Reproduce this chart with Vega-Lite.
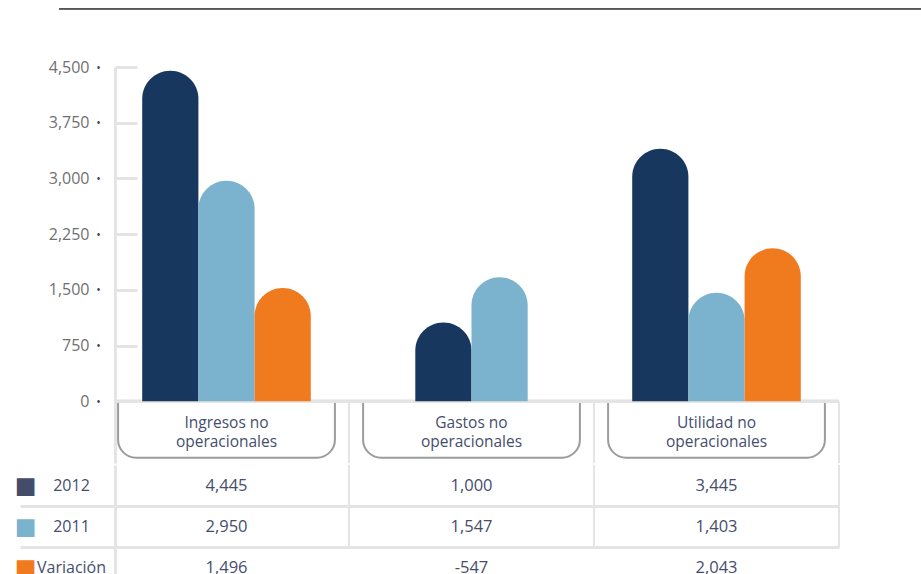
{
  "$schema": "https://vega.github.io/schema/vega-lite/v6.json",
  "padding": {"left": 14, "top": 7, "right": 0, "bottom": 0},
  "background": "white",
  "spacing": 0,
  "config": {
    "view": {"stroke": null},
    "font": "Open Sans",
    "locale": {"number": {"decimal": ".", "thousands": ",", "grouping": [3], "currency": ["$", ""], "minus": "-"}}
  },
  "datasets": {
    "bars": [
      {"category": "Ingresos no operacionales", "series": "2012", "value": 4450},
      {"category": "Ingresos no operacionales", "series": "2011", "value": 2970},
      {"category": "Ingresos no operacionales", "series": "Variación", "value": 1525},
      {"category": "Gastos no operacionales", "series": "2012", "value": 1060},
      {"category": "Gastos no operacionales", "series": "2011", "value": 1670},
      {"category": "Utilidad no operacionales", "series": "2012", "value": 3400},
      {"category": "Utilidad no operacionales", "series": "2011", "value": 1460},
      {"category": "Utilidad no operacionales", "series": "Variación", "value": 2060}
    ],
    "table": [
      {"category": "Ingresos no operacionales", "series": "2012", "shown": 4445},
      {"category": "Ingresos no operacionales", "series": "2011", "shown": 2950},
      {"category": "Ingresos no operacionales", "series": "Variación", "shown": 1496},
      {"category": "Gastos no operacionales", "series": "2012", "shown": 1000},
      {"category": "Gastos no operacionales", "series": "2011", "shown": 1547},
      {"category": "Gastos no operacionales", "series": "Variación", "shown": -547},
      {"category": "Utilidad no operacionales", "series": "2012", "shown": 3445},
      {"category": "Utilidad no operacionales", "series": "2011", "shown": 1403},
      {"category": "Utilidad no operacionales", "series": "Variación", "shown": 2043}
    ],
    "cats": [
      {"category": "Ingresos no operacionales", "header": "Ingresos no\noperacionales"},
      {"category": "Gastos no operacionales", "header": "Gastos no\noperacionales"},
      {"category": "Utilidad no operacionales", "header": "Utilidad no\noperacionales"}
    ]
  },
  "vconcat": [
    {
      "width": 724,
      "height": 396,
      "layer": [
        {
          "layer": [
            {
              "data": {"name": "cats"},
              "mark": {"type": "rule", "color": "#e4e4e4", "strokeWidth": 2},
              "encoding": {
                "x": {"field": "category", "type": "nominal", "bandPosition": 1, "scale": {"type": "band", "domain": ["Ingresos no operacionales", "Gastos no operacionales", "Utilidad no operacionales"], "range": [-11, 724], "paddingInner": 0, "paddingOuter": 0}, "axis": null},
                "y": {"datum": 0, "type": "quantitative", "scale": {"domain": [-830, 4500], "nice": false}, "axis": null},
                "y2": {"datum": -830}
              }
            },
            {
              "data": {"name": "cats"},
              "mark": {"type": "bar", "fill": "white", "stroke": "#9c9c9c", "strokeWidth": 2, "cornerRadiusBottomLeft": 18, "cornerRadiusBottomRight": 18, "width": {"band": 0.885}},
              "encoding": {
                "x": {"field": "category", "type": "nominal", "scale": {"type": "band", "domain": ["Ingresos no operacionales", "Gastos no operacionales", "Utilidad no operacionales"], "range": [-11, 724], "paddingInner": 0, "paddingOuter": 0}, "axis": null},
                "y": {"datum": 0, "type": "quantitative", "scale": {"domain": [-830, 4500], "nice": false}, "axis": null},
                "y2": {"datum": -758}
              }
            },
            {
              "data": {"name": "cats"},
              "mark": {"type": "text", "lineBreak": "\n", "fontSize": 15.5, "lineHeight": 19.5, "color": "#454e6e", "baseline": "middle"},
              "encoding": {
                "x": {"field": "category", "type": "nominal", "scale": {"type": "band", "domain": ["Ingresos no operacionales", "Gastos no operacionales", "Utilidad no operacionales"], "range": [-11, 724], "paddingInner": 0, "paddingOuter": 0}, "axis": null},
                "y": {"datum": -287, "type": "quantitative", "scale": {"domain": [-830, 4500], "nice": false}, "axis": null},
                "text": {"field": "header"}
              }
            },
            {
              "data": {"name": "cats"},
              "mark": {"type": "rule", "color": "#e4e4e4", "strokeWidth": 3},
              "encoding": {
                "y": {"datum": 0, "type": "quantitative", "scale": {"domain": [-830, 4500], "nice": false},
                  "axis": {"orient": "left", "values": [0, 750, 1500, 2250, 3000, 3750, 4500], "labelExpr": "'•'", "labelColor": "#3b4466", "labelFontSize": 12, "labelAlign": "center", "labelPadding": 17, "ticks": false, "domain": false, "grid": false, "title": null}}
              }
            },
            {
              "data": {"name": "bars"},
              "transform": [{"filter": "datum.category != 'Gastos no operacionales'"}],
              "mark": {"type": "bar", "cornerRadiusTopLeft": 28, "cornerRadiusTopRight": 28},
              "encoding": {
                "x": {"field": "category", "type": "nominal", "scale": {"type": "band", "domain": ["Ingresos no operacionales", "Gastos no operacionales", "Utilidad no operacionales"], "range": [-11, 724], "paddingInner": 0, "paddingOuter": 0}, "axis": null},
                "xOffset": {"field": "series", "type": "nominal", "scale": {"domain": ["2012", "2011", "Variación"], "paddingInner": 0, "paddingOuter": 0.68}},
                "y": {"field": "value", "type": "quantitative", "scale": {"domain": [-830, 4500], "nice": false},
                  "axis": {"orient": "left", "values": [0, 750, 1500, 2250, 3000, 3750, 4500], "labelExpr": "format(datum.value, ',')", "labelFontSize": 16, "labelColor": "#707070", "tickSize": -22, "tickColor": "#e4e4e4", "tickWidth": 3, "labelPadding": 48, "domainColor": "#e4e4e4", "domainWidth": 3, "grid": false, "title": null}},
                "y2": {"datum": 0},
                "color": {"field": "series", "type": "nominal", "scale": {"domain": ["2012", "2011", "Variación"], "range": ["#17375e", "#7bb3ce", "#f07a1e"]}, "legend": null}
              }
            },
            {
              "data": {"name": "bars"},
              "transform": [{"filter": "datum.category == 'Gastos no operacionales'"}],
              "mark": {"type": "bar", "cornerRadiusTopLeft": 28, "cornerRadiusTopRight": 28},
              "encoding": {
                "x": {"field": "category", "type": "nominal", "scale": {"type": "band", "domain": ["Ingresos no operacionales", "Gastos no operacionales", "Utilidad no operacionales"], "range": [-11, 724], "paddingInner": 0, "paddingOuter": 0}, "axis": null},
                "xOffset": {"field": "series", "type": "nominal", "scale": {"domain": ["_l", "2012", "2011", "_r"], "paddingInner": 0, "paddingOuter": 0.18}},
                "y": {"field": "value", "type": "quantitative", "scale": {"domain": [-830, 4500], "nice": false}, "axis": null},
                "y2": {"datum": 0},
                "color": {"field": "series", "type": "nominal", "scale": {"domain": ["2012", "2011", "Variación"], "range": ["#17375e", "#7bb3ce", "#f07a1e"]}, "legend": null}
              }
            }
          ],
          "resolve": {"scale": {"xOffset": "independent"}, "axis": {"y": "independent"}}
        },
        {
          "data": {"name": "cats"},
          "mark": {"type": "rule", "color": "#555555", "strokeWidth": 1.5},
          "encoding": {
            "x": {"datum": -0.0773, "type": "quantitative", "scale": {"domain": [0, 1], "nice": false, "zero": false}, "axis": null},
            "x2": {"datum": 1.1133},
            "y": {"datum": 5285, "type": "quantitative", "scale": {"domain": [-830, 4500], "nice": false}, "axis": null}
          }
        }
      ],
      "resolve": {"scale": {"x": "independent"}, "axis": {"y": "independent"}}
    },
    {
      "width": 724,
      "height": 123,
      "layer": [
        {
          "data": {"name": "cats"},
          "mark": {"type": "rule", "color": "#e4e4e4", "strokeWidth": 2},
          "encoding": {
            "x": {"field": "category", "type": "nominal", "bandPosition": 1, "scale": {"type": "band", "domain": ["Ingresos no operacionales", "Gastos no operacionales", "Utilidad no operacionales"], "range": [-11, 724], "paddingInner": 0, "paddingOuter": 0}, "axis": null},
            "y": {"datum": "2012", "type": "nominal", "bandPosition": 0, "scale": {"type": "band", "domain": ["2012", "2011", "Variación"], "paddingInner": 0, "paddingOuter": 0},
              "axis": {"orient": "left", "values": ["2011", "Variación"], "bandPosition": 0, "labels": false, "ticks": true, "tickSize": 95, "tickColor": "#e4e4e4", "tickWidth": 3, "grid": true, "gridColor": "#e4e4e4", "gridWidth": 3, "domain": true, "domainColor": "#e4e4e4", "domainWidth": 3, "title": null}},
            "y2": {"datum": "Variación", "bandPosition": 0}
          }
        },
        {
          "data": {"name": "table"},
          "mark": {"type": "text", "fontSize": 16.5, "color": "#454e6e", "baseline": "middle"},
          "encoding": {
            "x": {"field": "category", "type": "nominal", "scale": {"type": "band", "domain": ["Ingresos no operacionales", "Gastos no operacionales", "Utilidad no operacionales"], "range": [-11, 724], "paddingInner": 0, "paddingOuter": 0}, "axis": null},
            "y": {"field": "series", "type": "nominal", "scale": {"type": "band", "domain": ["2012", "2011", "Variación"], "paddingInner": 0, "paddingOuter": 0},
              "axis": {"orient": "left", "labelAlign": "center", "labelPadding": 44, "labelFontSize": 16, "labelColor": "#454e6e", "ticks": false, "domain": false, "grid": false, "title": null}},
            "text": {"field": "shown", "type": "quantitative", "format": ","}
          }
        },
        {
          "data": {"name": "table"},
          "mark": {"type": "text", "opacity": 0},
          "encoding": {
            "y": {"field": "series", "type": "nominal", "scale": {"type": "band", "domain": ["2012", "2011", "Variación"], "paddingInner": 0, "paddingOuter": 0},
              "axis": {"orient": "left", "labelExpr": "'■'", "labelFont": "DejaVu Sans", "labelFontSize": 23, "labelAlign": "center", "labelPadding": 90,
                "labelColor": {"condition": [{"test": "datum.value === '2012'", "value": "#444c6c"}, {"test": "datum.value === '2011'", "value": "#7bb3ce"}], "value": "#f07a1e"},
                "ticks": false, "domain": false, "grid": false, "title": null}},
            "text": {"value": ""}
          }
        }
      ],
      "resolve": {"axis": {"y": "independent"}}
    }
  ]
}
